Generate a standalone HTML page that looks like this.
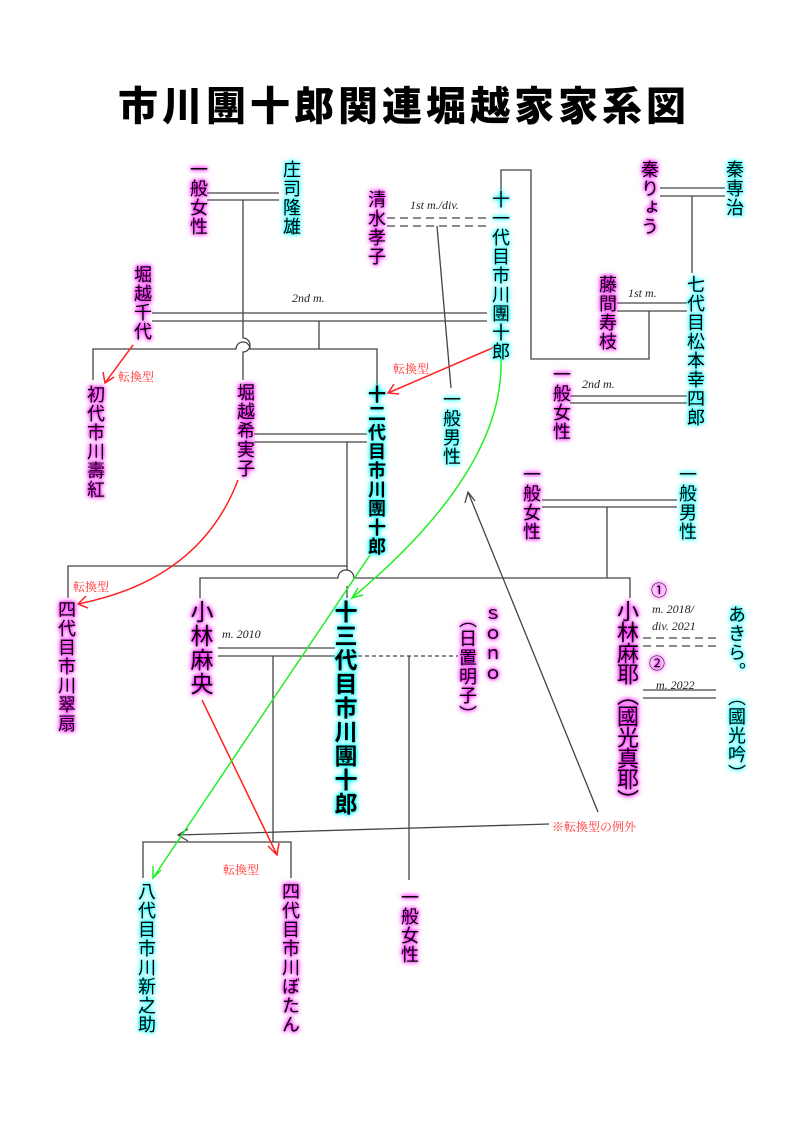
<!DOCTYPE html>
<html><head><meta charset="utf-8">
<style>
body{margin:0;background:#fff;}
#w{position:relative;width:800px;height:1132px;overflow:hidden;background:#fff;}
.v{position:absolute;writing-mode:vertical-rl;font-family:"Noto Sans CJK JP","Liberation Sans",sans-serif;font-size:18px;line-height:1;letter-spacing:1px;color:#000;white-space:nowrap;}
.m{text-shadow:0 0 3px #f0f,0 0 5px #f0f,0 0 7px #f6f;}
.c{text-shadow:0 0 3px #0ff,0 0 5px #0ff,0 0 7px #6ff;}
.b{font-weight:bold;}
.L{font-size:23px;letter-spacing:1px;}
.t{position:absolute;font-family:"Liberation Serif",serif;font-style:italic;font-size:12px;color:#222;white-space:nowrap;}
.r{position:absolute;font-family:"Noto Serif CJK SC","Noto Sans CJK JP",serif;font-size:12px;color:#f33;white-space:nowrap;}
#title{position:absolute;left:118px;top:78px;font-family:"Noto Sans CJK JP",sans-serif;font-weight:900;font-size:40px;letter-spacing:4px;line-height:50px;color:#000;white-space:nowrap;}
</style></head><body><div id="w">
<svg width="800" height="1132" style="position:absolute;left:0;top:0" fill="none">
<g stroke="#444" stroke-width="1.3">
<!-- 一般女性-庄司 -->
<path d="M207 193H279M207 200H279M243 200V338 A7 7 0 0 1 243 352 V380"/>
<!-- 清水-十一代 -->
<path d="M387 218H488M387 226H488" stroke-dasharray="8 5"/>
<path d="M437 226L451 388"/>
<!-- 十一代 loop -->
<path d="M501 190V170H531V359H649V311"/>
<path d="M617 303H687M617 311H687"/>
<path d="M660 188H725M660 196H725M692 196V273"/>
<path d="M570 396H687M570 403H687"/>
<!-- 堀越千代 2nd m -->
<path d="M152 313H487M152 321H487M319 321V349"/>
<path d="M93 380V349H236 A7 7 0 0 1 250 349 H377V385"/>
<!-- 希実子 - 十二代 -->
<path d="M254 434H367M254 442H367"/>
<path d="M347 442V566"/>
<path d="M68 598V566H347V570 M347 586V598"/>
<path d="M200 598V578H338 A8 8 0 0 1 354 578 H630V598"/>
<path d="M542 500H677M542 507H677M607 507V578"/>
<!-- 麻央-十三代 -->
<path d="M218 648H335M218 656H335M273 656V842M143 878V842H291V878"/>
<path d="M358 656H458" stroke-dasharray="4 3"/>
<path d="M409 656V880"/>
<path d="M643 638H716M643 646H716" stroke-dasharray="8 5"/>
<path d="M643 690H716M643 698H716"/>
<!-- exception arrows -->
<path d="M549 824L178 835M188 829L178 835L188 841"/>
<path d="M598 812L468 492M465 503L468 492L475 501"/>
</g>
<g stroke="#f22" stroke-width="1.5">
<path d="M133 345L105 383M103 372L105 383L114 377"/>
<path d="M497 346L388 393M394 384L388 393L399 394"/>
<path d="M238 480Q200 580 78 604M86 596L78 604L88 608"/>
<path d="M202 700L277 855M268 846L277 855L279 843"/>
</g>
<g stroke="#2e2" stroke-width="1.5">
<path d="M501 358Q505 470 352 598M358 588L352 598L363 595"/>
<path d="M370 555L153 878M153 866L153 878L161 870"/>
</g>
</svg>
<div id="title">市川團十郎関連堀越家家系図</div>

<div class="v m" style="left:190px;top:160px">一般女性</div>
<div class="v c" style="left:283px;top:160px">庄司隆雄</div>
<div class="v m" style="left:368px;top:190px">清水孝子</div>
<div class="v c" style="left:492px;top:190px">十一代目市川團十郎</div>
<div class="v m" style="left:641px;top:160px">秦りょう</div>
<div class="v c" style="left:726px;top:160px">秦専治</div>
<div class="v m" style="left:599px;top:275px">藤間寿枝</div>
<div class="v c" style="left:687px;top:275px">七代目松本幸四郎</div>
<div class="v m" style="left:553px;top:365px">一般女性</div>
<div class="v m" style="left:134px;top:265px">堀越千代</div>
<div class="v m" style="left:87px;top:385px">初代市川壽紅</div>
<div class="v m" style="left:237px;top:383px">堀越希実子</div>
<div class="v c b" style="left:368px;top:385px">十二代目市川團十郎</div>
<div class="v c" style="left:443px;top:390px">一般男性</div>
<div class="v m" style="left:523px;top:465px">一般女性</div>
<div class="v c" style="left:679px;top:465px">一般男性</div>
<div class="v m" style="left:58px;top:600px">四代目市川翠扇</div>
<div class="v m L" style="left:190px;top:600px">小林麻央</div>
<div class="v c b L" style="left:334px;top:600px;letter-spacing:1px">十三代目市川團十郎</div>
<div class="v m" style="left:484px;top:605px;text-orientation:upright;letter-spacing:2px">ｓｏｎｏ</div>
<div class="v m" style="left:459px;top:610px">（日置明子）</div>
<div class="v m L" style="left:617px;top:600px;font-size:22px;letter-spacing:-1px">小林麻耶（國光真耶）</div>
<div class="v c" style="left:728px;top:605px">あきら。</div>
<div class="v c" style="left:728px;top:688px">（國光吟）</div>
<div class="v c" style="left:138px;top:882px">八代目市川新之助</div>
<div class="v m" style="left:282px;top:882px">四代目市川ぼたん</div>
<div class="v m" style="left:401px;top:888px">一般女性</div>

<div class="v m" style="writing-mode:horizontal-tb;left:651px;top:581px;font-size:16px">①</div>
<div class="v m" style="writing-mode:horizontal-tb;left:649px;top:654px;font-size:16px">②</div>

<div class="t" style="left:410px;top:198px">1st m./div.</div>
<div class="t" style="left:292px;top:291px">2nd m.</div>
<div class="t" style="left:628px;top:286px">1st m.</div>
<div class="t" style="left:582px;top:377px">2nd m.</div>
<div class="t" style="left:222px;top:627px">m. 2010</div>
<div class="t" style="left:652px;top:602px">m. 2018/</div>
<div class="t" style="left:652px;top:619px">div. 2021</div>
<div class="t" style="left:656px;top:678px">m. 2022</div>

<div class="r" style="left:118px;top:368px">転換型</div>
<div class="r" style="left:393px;top:360px">転換型</div>
<div class="r" style="left:73px;top:578px">転換型</div>
<div class="r" style="left:223px;top:861px">転換型</div>
<div class="r" style="left:552px;top:818px">※転換型の例外</div>
</div></body></html>
